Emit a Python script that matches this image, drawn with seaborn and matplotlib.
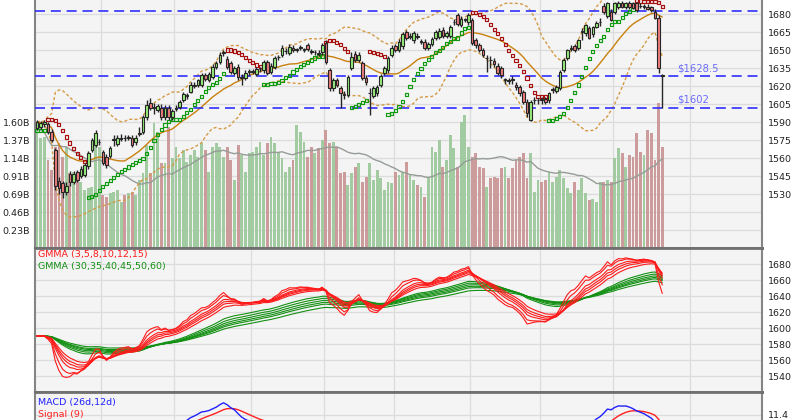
import numpy as np
import pandas as pd
import matplotlib
matplotlib.use("Agg")
import matplotlib.pyplot as plt
from matplotlib.transforms import blended_transform_factory
import seaborn as sns

# ---------------- data ----------------
opens = [
    1585, 1586, 1588, 1588, 1582, 1567, 1541, 1539, 1532, 1547,
    1540, 1548, 1545, 1546, 1553, 1567, 1571, 1573, 1565, 1561,
    1562, 1575, 1572, 1576, 1577, 1577, 1577, 1573, 1580, 1582,
    1594, 1606, 1602, 1600, 1602, 1594, 1602, 1594, 1601, 1602.5,
    1608, 1612, 1615, 1620, 1621, 1621, 1629, 1625, 1627.5, 1636,
    1640, 1647.5, 1642.5, 1639, 1631, 1636, 1627, 1627, 1632, 1632,
    1630, 1634, 1633, 1640, 1632, 1636, 1644, 1646, 1649, 1647.5,
    1652, 1650, 1652, 1650, 1654, 1649, 1648, 1647.5, 1648, 1656,
    1633, 1618, 1625, 1618, 1613, 1612.5, 1635, 1647, 1642, 1639,
    1626.7, 1614, 1612, 1614, 1621, 1631, 1633, 1646, 1653, 1650,
    1653, 1665, 1661, 1658, 1662, 1657, 1657, 1652, 1655, 1660,
    1661, 1667, 1662, 1662, 1673, 1679, 1671, 1675, 1673, 1675,
    1658, 1654, 1650, 1643, 1642, 1641, 1637, 1635, 1625, 1625,
    1626, 1621, 1619, 1615, 1607, 1592, 1608, 1608, 1609, 1609,
    1608, 1617, 1616, 1618, 1633, 1643, 1651, 1653, 1652, 1665,
    1664, 1668, 1663, 1669, 1673, 1687, 1678, 1682, 1682, 1686,
    1689, 1686, 1689, 1689, 1689, 1687, 1686, 1686, 1685.5, 1682,
    1677, 1629]
highs = [
    1592, 1591, 1592, 1590, 1584, 1568, 1544, 1541, 1540, 1549,
    1549, 1550, 1553, 1556, 1566, 1577, 1583, 1576, 1567, 1563,
    1570, 1579, 1579, 1580, 1579, 1579, 1579, 1579, 1586, 1596,
    1608, 1610, 1606, 1605, 1605, 1604, 1604, 1601, 1604, 1608,
    1615, 1614, 1623, 1623, 1626, 1631, 1631, 1632, 1638, 1641,
    1648, 1650, 1645, 1641, 1637, 1638, 1630, 1633, 1634, 1634,
    1636, 1636, 1642, 1642, 1639, 1645, 1646, 1654, 1652, 1655,
    1654, 1652, 1654, 1652, 1656, 1651, 1650, 1650, 1656, 1658,
    1635, 1627, 1627, 1620, 1616, 1629, 1648, 1649, 1648, 1641,
    1629, 1618, 1620, 1621, 1630, 1637, 1645, 1654, 1655, 1659,
    1665, 1667, 1664, 1666, 1664, 1659, 1659, 1657, 1661, 1667,
    1668, 1669, 1666, 1671, 1676, 1681, 1678, 1677, 1681, 1677,
    1660, 1656, 1652, 1646, 1645, 1643, 1639, 1637, 1627, 1627,
    1628, 1623, 1621, 1617, 1609, 1608, 1611, 1610, 1611, 1611,
    1615, 1619, 1621, 1633, 1643, 1651, 1654, 1655, 1659, 1668,
    1672, 1670, 1670, 1674, 1677, 1689, 1690, 1684, 1690, 1691,
    1691, 1690, 1691, 1690, 1690, 1689, 1688, 1688, 1687, 1684,
    1679, 1630]
lows = [
    1583, 1584, 1586, 1580, 1573, 1533, 1530, 1527, 1529, 1537,
    1538, 1540, 1543, 1544, 1551, 1565, 1569, 1571, 1554, 1552,
    1560, 1570, 1570, 1574, 1574, 1575, 1569, 1571, 1578, 1580,
    1592, 1600, 1597, 1598, 1592, 1592, 1592, 1592, 1599, 1601,
    1607, 1609, 1614, 1618, 1619, 1619, 1624, 1623, 1626, 1634,
    1638, 1645, 1634, 1630, 1629, 1625, 1621, 1625, 1629, 1630,
    1628, 1632, 1631, 1629, 1630, 1634, 1642, 1644, 1647, 1646,
    1648, 1648, 1650, 1648, 1649, 1647, 1646, 1645, 1646, 1638,
    1616, 1616, 1619, 1602, 1609, 1611, 1633, 1640, 1640, 1625,
    1621, 1596, 1610, 1612, 1619, 1629, 1631, 1644, 1648, 1648,
    1651, 1658, 1659, 1656, 1659, 1655, 1650, 1650, 1653, 1658,
    1659, 1660, 1660, 1660, 1671, 1670, 1669, 1673, 1671, 1654,
    1652, 1648, 1644, 1632, 1635, 1636, 1629, 1627, 1622, 1622,
    1622, 1617, 1612, 1605, 1594, 1591, 1605, 1605, 1605, 1605,
    1606, 1614, 1614, 1617, 1632, 1642, 1649, 1648, 1650, 1658,
    1662, 1659, 1661, 1668, 1670, 1680, 1677, 1674, 1680, 1684,
    1685, 1684, 1684, 1684, 1682, 1685, 1684, 1683, 1682, 1676,
    1631, 1602]
closes = [
    1590, 1589, 1590, 1582, 1575, 1537, 1535, 1532, 1537, 1540,
    1547, 1542, 1551, 1554, 1564, 1575, 1581, 1573.5, 1556, 1554,
    1568, 1575.5, 1577, 1576.5, 1576.5, 1577.5, 1571, 1577, 1580.5, 1594,
    1604, 1602, 1602.5, 1603, 1594, 1602, 1594, 1599, 1601.5, 1606.5,
    1613, 1612.5, 1621, 1620.5, 1625, 1629, 1626, 1630, 1636, 1639,
    1646, 1648, 1636, 1632, 1635, 1627.5, 1627.5, 1631, 1632.5, 1632.5,
    1634, 1634.5, 1640, 1631, 1637, 1643, 1644.5, 1651.5, 1649.5, 1652.5,
    1650, 1650.5, 1652.5, 1650.5, 1651, 1648.5, 1648.5, 1647, 1654, 1640,
    1618, 1625, 1621, 1614, 1612.5, 1627.5, 1644, 1642, 1646, 1627,
    1623, 1614.5, 1618, 1619, 1628, 1635, 1643, 1652, 1650, 1657,
    1663, 1660, 1661.5, 1664, 1661, 1657.5, 1652, 1655, 1659, 1665,
    1666, 1662, 1664, 1669, 1673.5, 1672, 1676, 1675.5, 1679, 1656,
    1654, 1650, 1646, 1643.5, 1641.5, 1638, 1631, 1629, 1625.5, 1624.5,
    1625, 1619, 1614, 1607, 1597.5, 1607, 1608.5, 1608.5, 1608, 1607,
    1614, 1617.5, 1619, 1632, 1642, 1650, 1651.5, 1650, 1658, 1665.5,
    1671, 1660, 1669, 1672.5, 1673.5, 1682, 1689, 1675, 1689, 1689.5,
    1686, 1689, 1686, 1685, 1683, 1686.5, 1686.5, 1684, 1683, 1677,
    1635, 1628.5]
volumes_b = [
    1.60, 1.40, 1.41, 1.12, 0.99, 1.28, 1.33, 1.16, 1.28, 0.95,
    0.97, 0.95, 0.84, 0.74, 0.76, 0.77, 1.33, 1.28, 0.67, 0.65,
    0.70, 0.71, 0.74, 0.58, 0.67, 0.70, 0.71, 0.67, 0.86, 0.95,
    1.31, 0.95, 1.59, 1.47, 1.08, 1.08, 1.54, 1.14, 1.28, 1.14,
    1.24, 1.09, 1.18, 1.24, 1.16, 1.33, 1.24, 0.97, 1.28, 1.33,
    1.28, 1.16, 1.28, 1.12, 0.86, 1.31, 1.18, 0.97, 1.21, 1.22,
    1.28, 1.35, 1.18, 1.33, 1.41, 1.33,
    1.22, 1.14, 0.97, 1.03, 1.12, 1.56, 1.47, 1.35, 1.16, 1.28,
    1.21, 1.27, 1.37, 1.50, 1.33, 1.35, 1.28, 0.95, 0.97, 0.80,
    0.95, 1.03, 1.08, 0.84, 0.90, 1.08, 0.86, 0.99, 0.89, 0.74,
    0.84, 0.83, 0.97, 0.93, 0.97, 1.09, 0.93, 0.86, 0.80, 0.77,
    0.65, 0.89, 1.28, 1.22, 1.37, 1.03, 1.12, 1.43, 1.27, 1.03,
    1.60, 1.69, 1.28, 1.16, 1.21, 1.03, 1.02, 0.77, 0.89, 0.90,
    0.89, 1.02, 1.03, 0.89, 1.02, 1.12, 1.16,
    1.21, 0.89, 1.21, 0.71, 0.86, 0.84, 0.86, 0.97, 0.84, 0.90,
    0.99, 0.89, 0.76, 0.70, 0.84, 0.74, 0.89, 0.70, 0.61, 0.62,
    0.58, 0.84, 0.84, 0.86, 0.84, 1.14, 1.27, 1.21, 1.03, 1.18,
    1.16, 1.46, 1.22, 1.18, 1.50, 1.46, 1.12, 1.84, 1.28]
month_first_bar = [18, 38, 59, 79, 98, 119, 138, 158, 179]
level_prices = [1682.5, 1628.5, 1602]
level_labels = ["", "$1628.5", "$1602"]
price_ticks = [1530, 1545, 1560, 1575, 1590, 1605, 1620, 1635, 1650, 1665, 1680]
vol_top_label = 1.60          # highest labelled volume tick (billions)
vol_label_count = 7
gmma_short = [3, 5, 8, 10, 12, 15]
gmma_long = [30, 35, 40, 45, 50, 60]
gmma_ticks = [1540, 1560, 1580, 1600, 1620, 1640, 1660, 1680]
macd_ticks = [11.4]

# ---------------- style ----------------
sns.set_style("white")
plt.rcParams['font.family'] = ['DejaVu Sans']
plt.rcParams['font.size'] = 6.6

PANEL_BG = '#f4f4f4'
GRID = '#dcdcdc'
BORDER = '#858585'
UP_BODY = '#98f07a'
DN_BODY = '#f07c7c'
UP_VOL = '#a2cba2'
DN_VOL = '#cc9c9c'
EDGE = '#262626'
BAND = '#d49a45'
MID = '#c9800f'

o = np.array(opens, float); h = np.array(highs, float)
l = np.array(lows, float); c = np.array(closes, float)
v = np.array(volumes_b, float)
n = len(c)
idx = np.arange(n)
up = c >= o
cs = pd.Series(c)

# indicators
mid = cs.rolling(20, min_periods=1).mean()
sd = cs.rolling(20, min_periods=1).std(ddof=0)
upper = mid + 2 * sd
lower = mid - 2 * sd
vol_ma = pd.Series(v).rolling(20, min_periods=1).mean()


def parabolic_sar(hi, lo, step=0.02, max_af=0.2):
    m = len(hi)
    sar = np.empty(m); bull_arr = np.empty(m, bool)
    bull = True; af = step; ep = hi[0]
    sar[0] = lo[0]; bull_arr[0] = True
    for i in range(1, m):
        prev = sar[i - 1]
        s = prev + af * (ep - prev)
        if bull:
            s = min(s, lo[i - 1], lo[i - 2] if i > 1 else lo[i - 1])
            if lo[i] < s:
                bull = False; s = ep; ep = lo[i]; af = step
            elif hi[i] > ep:
                ep = hi[i]; af = min(af + step, max_af)
        else:
            s = max(s, hi[i - 1], hi[i - 2] if i > 1 else hi[i - 1])
            if hi[i] > s:
                bull = True; s = ep; ep = hi[i]; af = step
            elif lo[i] < ep:
                ep = lo[i]; af = min(af + step, max_af)
        sar[i] = s; bull_arr[i] = bull
    return sar, bull_arr


sar, sar_up = parabolic_sar(h, l)
ema = lambda span: cs.ewm(span=span, adjust=False).mean()
macd = ema(12) - ema(26)
signal = macd.ewm(span=9, adjust=False).mean()
hist = macd - signal

# ---------------- layout ----------------
W, H = 800, 420
def rect(x0, y0, x1, y1):
    return [x0 / W, 1 - y1 / H, (x1 - x0) / W, (y1 - y0) / H]

sp = (662.3 - 37.0) / (n - 1)
xlim = (-(37 - 35) / sp, (n - 1) + (762 - 662.3) / sp)
vstep = vol_top_label / vol_label_count
px_per_price = 1.2

fig = plt.figure(figsize=(8, 4.2), dpi=100, facecolor='white')

# volume (background) axis
ax_v = fig.add_axes(rect(35, -10, 762, 248))
ax_v.set_facecolor(PANEL_BG)
ax_v.set_xlim(*xlim)
ax_v.set_ylim(0, 258 / 18 * vstep)
for k in range(1, 14):
    ax_v.axhline(k * vstep, color=GRID, lw=0.9, zorder=0)
for mb in month_first_bar:
    ax_v.axvline(mb - 0.5, color=GRID, lw=0.9, zorder=0)
ax_v.bar(idx, v, width=0.78, color=np.where(up, UP_VOL, DN_VOL), linewidth=0, zorder=1)
sns.lineplot(x=idx, y=vol_ma.values, ax=ax_v, color='#969c96', lw=1.0, estimator=None, zorder=2)
vt = [k * vstep for k in range(1, vol_label_count + 1)]
ax_v.set_yticks(vt)
ax_v.set_yticklabels([f"{t:.2f}B" for t in vt])
ax_v.tick_params(axis='y', length=2.5, width=0.8, color=BORDER, pad=1, labelsize=6.8, labelcolor='#222222')
ax_v.set_xticks([])
for s in ['left', 'right']:
    ax_v.spines[s].set_color(BORDER); ax_v.spines[s].set_linewidth(1.5)
ax_v.spines['bottom'].set_color('#707070'); ax_v.spines['bottom'].set_linewidth(2)
ax_v.spines['top'].set_visible(False)
ax_v.set_ylabel('')

# price axis on top
ax_p = fig.add_axes(rect(35, -10, 762, 248), sharex=ax_v)
ax_p.patch.set_visible(False)
ax_p.set_zorder(ax_v.get_zorder() + 1)
ax_p.set_ylim(1680 - 234 / px_per_price, 1680 + 24 / px_per_price)
for s in ax_p.spines.values():
    s.set_visible(False)

sns.lineplot(x=idx, y=upper.values, ax=ax_p, color=BAND, lw=1.0, ls=(0, (2.2, 1.6)), estimator=None, zorder=2)
sns.lineplot(x=idx, y=lower.values, ax=ax_p, color=BAND, lw=1.0, ls=(0, (2.2, 1.6)), estimator=None, zorder=2)
sns.lineplot(x=idx, y=mid.values, ax=ax_p, color=MID, lw=1.0, estimator=None, zorder=2)

for lv in level_prices:
    ax_p.axhline(lv, color='#2f2fff', lw=1.2, ls=(0, (6, 3.5)), zorder=3)
tr = blended_transform_factory(ax_p.transAxes, ax_p.transData)
for lv, lab in zip(level_prices, level_labels):
    if lab:
        ax_p.annotate(lab, xy=((677 - 35) / 727, lv), xycoords=tr, xytext=(0, 2),
                      textcoords='offset points', color='#6b6bff', fontsize=7.2, va='bottom', ha='left')

sar_df = pd.DataFrame({'i': idx, 'sar': sar, 'up': sar_up})
for flag, col in [(True, '#0f9a0f'), (False, '#a81010')]:
    d = sar_df[sar_df['up'] == flag]
    sns.scatterplot(data=d, x='i', y='sar', ax=ax_p, marker='s', s=5, color=col,
                    facecolor='none', edgecolor=col, linewidth=0.85, zorder=4, legend=False)

ax_p.vlines(idx, l, h, color=EDGE, lw=1.0, zorder=5)
ax_p.bar(idx, np.abs(c - o), bottom=np.minimum(o, c), width=0.72,
         color=np.where(up, UP_BODY, DN_BODY), edgecolor=EDGE, linewidth=0.8, zorder=6)

ax_p.yaxis.tick_right()
ax_p.set_yticks(price_ticks)
ax_p.set_yticklabels([str(t) for t in price_ticks])
ax_p.tick_params(axis='y', length=0, pad=4, labelsize=6.8, labelcolor='#222222')
ax_p.tick_params(axis='x', bottom=False, labelbottom=False)
ax_p.set_xlabel(''); ax_p.set_ylabel('')

# GMMA panel
ax_g = fig.add_axes(rect(35, 248, 762, 392), sharex=ax_v)
ax_g.set_facecolor(PANEL_BG)
ax_g.set_ylim(1520, 1700)
for t in gmma_ticks:
    ax_g.axhline(t, color=GRID, lw=0.9, zorder=0)
for mb in month_first_bar:
    ax_g.axvline(mb - 0.5, color=GRID, lw=0.9, zorder=0)
for sp_ in gmma_long:
    sns.lineplot(x=idx, y=ema(sp_).values, ax=ax_g, color='#139013', lw=0.8, estimator=None, zorder=2)
for sp_ in gmma_short:
    sns.lineplot(x=idx, y=ema(sp_).values, ax=ax_g, color='#ff1a1a', lw=0.8, estimator=None, zorder=3)
ax_g.yaxis.tick_right()
ax_g.set_yticks(gmma_ticks)
ax_g.set_yticklabels([str(t) for t in gmma_ticks])
ax_g.tick_params(axis='y', length=0, pad=4, labelsize=6.8, labelcolor='#222222')
ax_g.tick_params(axis='x', bottom=False, labelbottom=False)
ax_g.set_xlabel(''); ax_g.set_ylabel('')
for s in ['left', 'right']:
    ax_g.spines[s].set_color(BORDER); ax_g.spines[s].set_linewidth(1.5)
for s in ['top', 'bottom']:
    ax_g.spines[s].set_color('#707070'); ax_g.spines[s].set_linewidth(2)
ax_g.text(0.004, 0.985, "GMMA (" + ",".join(map(str, gmma_short)) + ")", transform=ax_g.transAxes,
          color='#ff1a1a', fontsize=6.8, va='top', ha='left')
ax_g.text(0.004, 0.905, "GMMA (" + ",".join(map(str, gmma_long)) + ")", transform=ax_g.transAxes,
          color='#139013', fontsize=6.8, va='top', ha='left')

# MACD panel (mostly below the figure edge)
s_m = 0.33
ax_m = fig.add_axes(rect(35, 392, 762, 480), sharex=ax_v)
ax_m.set_facecolor(PANEL_BG)
ax_m.set_ylim(11.4 - 65 * s_m, 11.4 + 23 * s_m)
for t in macd_ticks:
    ax_m.axhline(t, color=GRID, lw=0.9, zorder=0)
for mb in month_first_bar:
    ax_m.axvline(mb - 0.5, color=GRID, lw=0.9, zorder=0)
ax_m.bar(idx, hist.values, width=0.8, color='#7ccf6e', linewidth=0, zorder=1)
sns.lineplot(x=idx, y=signal.values, ax=ax_m, color='#ff2020', lw=1.0, estimator=None, zorder=2)
sns.lineplot(x=idx, y=macd.values, ax=ax_m, color='#2020ff', lw=1.0, estimator=None, zorder=3)
ax_m.yaxis.tick_right()
ax_m.set_yticks(macd_ticks)
ax_m.set_yticklabels([str(t) for t in macd_ticks])
ax_m.tick_params(axis='y', length=0, pad=4, labelsize=6.8, labelcolor='#222222')
ax_m.tick_params(axis='x', bottom=False, labelbottom=False)
ax_m.set_xlabel(''); ax_m.set_ylabel('')
for s in ['left', 'right']:
    ax_m.spines[s].set_color(BORDER); ax_m.spines[s].set_linewidth(1.5)
ax_m.spines['top'].set_color('#707070'); ax_m.spines['top'].set_linewidth(2)
ax_m.text(0.004, 0.93, "MACD (26d,12d)", transform=ax_m.transAxes, color='#2020ff',
          fontsize=6.8, va='top', ha='left')
ax_m.text(0.004, 0.80, "Signal (9)", transform=ax_m.transAxes, color='#ff2020',
          fontsize=6.8, va='top', ha='left')

ax_v.set_xlim(*xlim)
fig.savefig('out.png', dpi=100, facecolor='white')
